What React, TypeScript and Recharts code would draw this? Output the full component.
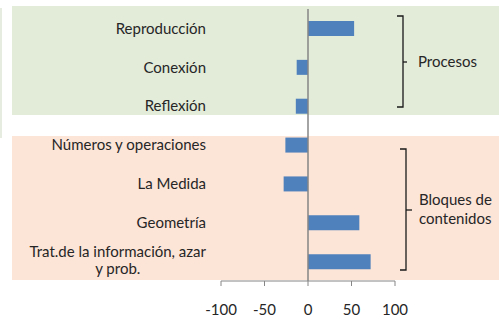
import React from 'react';
import { BarChart, Bar, XAxis, YAxis, ReferenceLine } from 'recharts';

const categories = [
  'Reproducción',
  'Conexión',
  'Reflexión',
  'Números y operaciones',
  'La Medida',
  'Geometría',
  'Trat.de la información, azar\ny prob.',
];
const values = [53, -13, -14, -26, -28, 59, 72];
const xTicks = [-100, -50, 0, 50, 100];

const data = categories.map((name, i) => ({ name, value: values[i] }));

const FONT = 'Lato, "Noto Sans", sans-serif';
const TEXT = '#262626';
const FS = 15;

const measure = (s: string, size: number) => {
  const ctx = document.createElement('canvas').getContext('2d');
  if (!ctx) return s.length * size * 0.48;
  ctx.font = `${size}px ${FONT}`;
  return ctx.measureText(s).width;
};

// category labels, multi-line ones centred under their first line
const CategoryTick = ({ x, y, payload }: any) => {
  const lines = String(payload.value).split('\n');
  if (lines.length === 1) {
    return (
      <text x={x} y={y} dy="0.35em" textAnchor="end" fontSize={FS} fill={TEXT} fontFamily={FONT}>
        {payload.value}
      </text>
    );
  }
  const w = measure(lines[0], FS);
  const cx = x - w / 2;
  return (
    <text x={cx} y={y} textAnchor="middle" fontSize={FS} fill={TEXT} fontFamily={FONT}>
      {lines.map((l, i) => (
        <tspan key={i} x={cx} dy={i === 0 ? '-0.3em' : '1.15em'}>
          {l}
        </tspan>
      ))}
    </text>
  );
};

const App = () => {
  return (
    <div style={{ position: 'absolute', left: 0, top: 0, width: 499, height: 320, fontFamily: FONT, background: '#fff' }}>
      {/* section backgrounds */}
      <div style={{ position: 'absolute', left: 0, top: 8, width: 2, height: 130, background: '#e6ede0' }} />
      <div style={{ position: 'absolute', left: 12, top: 6, width: 487, height: 109, background: '#e3ebd9' }} />
      <div style={{ position: 'absolute', left: 12, top: 136, width: 487, height: 144, background: '#fce4d6' }} />

      <div style={{ position: 'absolute', left: 0, top: 0 }}>
        <BarChart
          width={499}
          height={320}
          data={data}
          layout="vertical"
          margin={{ top: 9, right: 104, bottom: 9, left: 12 }}
        >
          <XAxis
            type="number"
            domain={[-100, 100]}
            ticks={xTicks}
            stroke="#868686"
            tickSize={5}
            tickMargin={18}
            height={30}
            tick={{ fontSize: FS, fill: TEXT, fontFamily: FONT }}
          />
          <YAxis
            type="category"
            dataKey="name"
            width={209}
            axisLine={false}
            tickLine={false}
            tickSize={0}
            tickMargin={15}
            interval={0}
            tick={<CategoryTick />}
          />
          <ReferenceLine x={0} stroke="#868686" strokeWidth={1.5} />
          <Bar dataKey="value" fill="#4f81bd" barSize={15} isAnimationActive={false} />
        </BarChart>
      </div>

      {/* group brackets */}
      <svg width={499} height={320} style={{ position: 'absolute', left: 0, top: 0, pointerEvents: 'none' }}>
        <g stroke="#1a1a1a" strokeWidth={1.3} fill="none">
          <polyline points="397,16 403,16 403,107 397,107" />
          <line x1={403} y1={62} x2={407} y2={62} />
          <polyline points="400,149 406,149 406,270 400,270" />
          <line x1={406} y1={210} x2={412} y2={210} />
        </g>
        <text x={418} y={62} dy="0.35em" fontSize={FS} fill={TEXT} fontFamily={FONT}>
          Procesos
        </text>
        <text x={419} y={200} dy="0.35em" fontSize={FS} fill={TEXT} fontFamily={FONT}>
          Bloques de
        </text>
        <text x={419} y={219} dy="0.35em" fontSize={FS} fill={TEXT} fontFamily={FONT}>
          contenidos
        </text>
      </svg>
    </div>
  );
};

export default App;
